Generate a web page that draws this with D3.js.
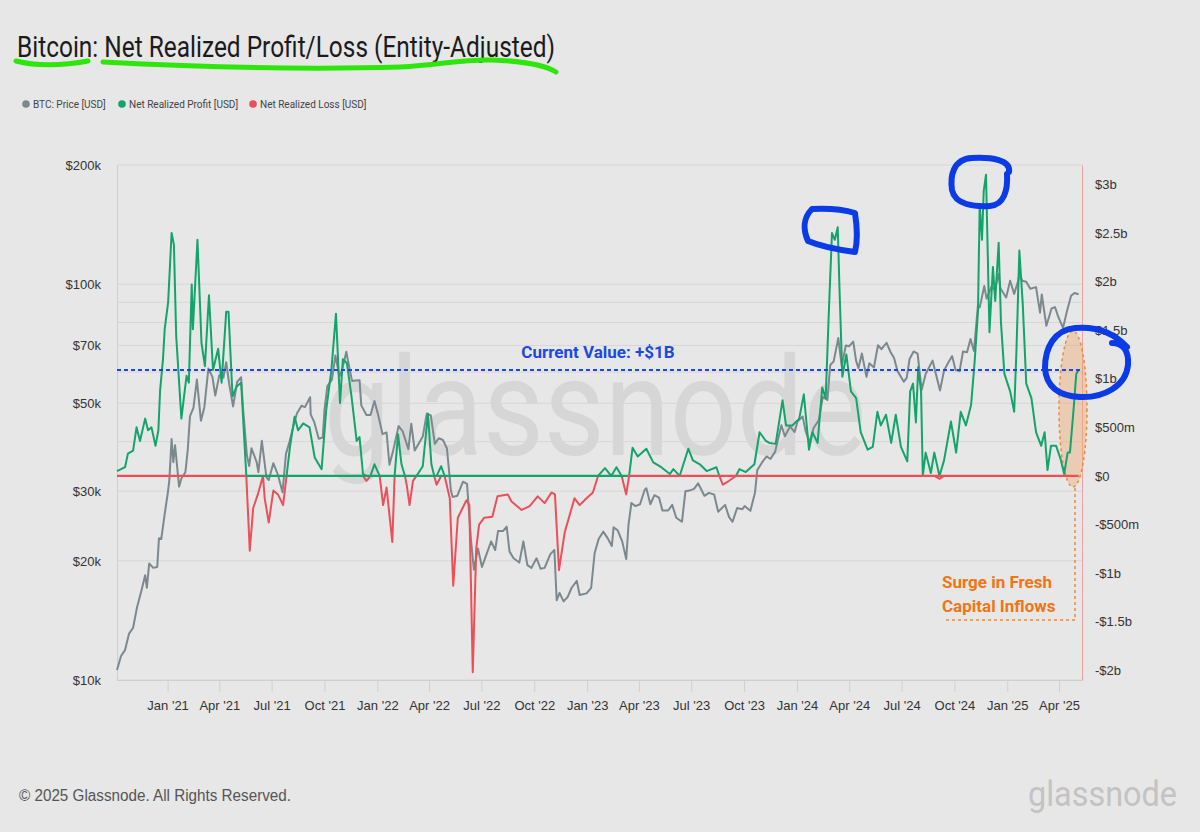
<!DOCTYPE html>
<html>
<head>
<meta charset="utf-8">
<script src="https://cdn.jsdelivr.net/npm/d3@7"></script>
<style>
  body { margin: 0; background: #e7e7e7; }
  svg { display: block; font-family: Roboto, "Liberation Sans", Arial, sans-serif; }
</style>
</head>
<body>
<svg width="1200" height="832"></svg>
<script>
// BTC price, USD
let priceDates = ["2020-10-05","2020-10-12","2020-10-19","2020-10-26","2020-11-02","2020-11-09","2020-11-16","2020-11-23","2020-11-26","2020-11-30","2020-12-07","2020-12-14","2020-12-17","2020-12-21","2020-12-27","2021-01-01","2021-01-04","2021-01-08","2021-01-11","2021-01-14","2021-01-21","2021-01-25","2021-02-01","2021-02-05","2021-02-09","2021-02-15","2021-02-21","2021-02-28","2021-03-06","2021-03-13","2021-03-20","2021-03-25","2021-04-01","2021-04-08","2021-04-13","2021-04-18","2021-04-25","2021-05-02","2021-05-09","2021-05-12","2021-05-19","2021-05-23","2021-05-27","2021-06-05","2021-06-08","2021-06-14","2021-06-22","2021-06-26","2021-07-04","2021-07-12","2021-07-20","2021-07-26","2021-08-01","2021-08-08","2021-08-14","2021-08-22","2021-08-28","2021-09-06","2021-09-07","2021-09-13","2021-09-21","2021-09-28","2021-10-01","2021-10-06","2021-10-14","2021-10-20","2021-10-27","2021-11-01","2021-11-08","2021-11-10","2021-11-18","2021-11-24","2021-12-01","2021-12-04","2021-12-13","2021-12-20","2021-12-27","2022-01-03","2022-01-10","2022-01-17","2022-01-22","2022-01-28","2022-02-07","2022-02-14","2022-02-24","2022-03-01","2022-03-07","2022-03-14","2022-03-21","2022-03-28","2022-04-04","2022-04-11","2022-04-18","2022-04-25","2022-05-02","2022-05-09","2022-05-12","2022-05-20","2022-05-30","2022-06-06","2022-06-13","2022-06-18","2022-06-25","2022-07-02","2022-07-10","2022-07-18","2022-07-25","2022-07-30","2022-08-08","2022-08-14","2022-08-19","2022-08-26","2022-09-05","2022-09-12","2022-09-19","2022-09-26","2022-10-05","2022-10-12","2022-10-19","2022-10-29","2022-11-05","2022-11-09","2022-11-14","2022-11-21","2022-11-28","2022-12-05","2022-12-14","2022-12-19","2022-12-31","2023-01-08","2023-01-14","2023-01-21","2023-01-29","2023-02-05","2023-02-13","2023-02-16","2023-02-23","2023-03-03","2023-03-10","2023-03-14","2023-03-19","2023-03-26","2023-04-03","2023-04-11","2023-04-14","2023-04-21","2023-04-28","2023-05-06","2023-05-12","2023-05-22","2023-05-29","2023-06-05","2023-06-15","2023-06-21","2023-06-28","2023-07-06","2023-07-13","2023-07-24","2023-08-01","2023-08-10","2023-08-17","2023-08-29","2023-09-05","2023-09-11","2023-09-19","2023-09-28","2023-10-02","2023-10-12","2023-10-20","2023-10-24","2023-11-01","2023-11-09","2023-11-16","2023-11-24","2023-12-05","2023-12-11","2023-12-20","2023-12-28","2024-01-02","2024-01-11","2024-01-16","2024-01-23","2024-01-30","2024-02-08","2024-02-15","2024-02-23","2024-02-28","2024-03-05","2024-03-13","2024-03-19","2024-03-26","2024-04-01","2024-04-08","2024-04-13","2024-04-17","2024-04-23","2024-05-01","2024-05-06","2024-05-14","2024-05-21","2024-05-27","2024-06-05","2024-06-12","2024-06-18","2024-06-24","2024-07-05","2024-07-10","2024-07-15","2024-07-22","2024-07-29","2024-08-05","2024-08-12","2024-08-24","2024-08-30","2024-09-06","2024-09-13","2024-09-20","2024-09-27","2024-10-03","2024-10-10","2024-10-16","2024-10-23","2024-10-29","2024-11-04","2024-11-11","2024-11-14","2024-11-22","2024-11-26","2024-12-05","2024-12-10","2024-12-17","2024-12-20","2024-12-30","2025-01-06","2025-01-13","2025-01-20","2025-01-22","2025-01-27","2025-02-03","2025-02-10","2025-02-20","2025-02-27","2025-03-02","2025-03-10","2025-03-19","2025-03-25","2025-03-31","2025-04-08","2025-04-14","2025-04-22","2025-04-28","2025-05-05"];
let priceValues = [10600,11500,11900,13100,13550,15300,16700,18400,17100,19700,19200,19300,22800,22700,26300,29400,31900,40600,35500,39200,30800,32300,33500,38000,46400,48700,57400,45200,48900,61200,58300,52300,58900,58000,63500,56200,49100,56600,58200,49200,37000,34700,38500,35500,33500,40200,32500,32000,35300,33000,29800,37300,39900,43800,47100,49300,48900,51800,46900,44900,40700,41000,48100,55300,57400,66000,58500,61000,67500,65000,56900,57100,57200,49400,46700,46700,50700,46400,41800,42200,35000,37700,43800,42500,38300,44400,38000,39600,41200,47100,46600,39500,40800,40400,38500,30100,29000,29200,31700,31300,22500,19000,21500,19300,20800,22400,21300,23800,23800,24400,21100,20300,19800,22400,19500,19200,20300,19100,19200,20800,21300,15900,16600,15800,16200,17100,17800,16400,16550,17100,20900,22700,23700,22900,21800,24300,23900,22400,20200,24700,28000,27500,27800,30200,30500,27800,29300,28900,26800,26800,27700,25700,25100,30000,30100,30400,31400,29200,29700,29400,26600,27700,25800,25100,27200,27000,27500,26750,29700,33900,35400,36700,36200,37700,44000,41300,43700,42300,45000,46300,42600,39800,43300,45300,51900,51000,62500,63800,73100,62000,70000,69700,71600,64000,61300,66800,58300,63100,61600,70100,68500,71100,67300,65100,60300,56700,58000,64700,67600,66800,54000,59300,64100,59100,53900,60500,63200,65800,60700,60300,67600,67300,72700,67800,88700,87300,98900,91900,98800,96600,106000,97700,92500,102000,94500,102000,106000,102000,101400,97400,98300,84700,94200,78500,86800,87500,82500,77500,84500,93500,95000,94300];

// net realized profit/loss, billions USD (profit = positive part, loss = negative part)
let plDates = ["2020-10-05","2020-10-12","2020-10-19","2020-10-24","2020-11-02","2020-11-08","2020-11-14","2020-11-23","2020-11-28","2020-12-04","2020-12-11","2020-12-16","2020-12-19","2020-12-24","2020-12-27","2021-01-02","2021-01-08","2021-01-12","2021-01-16","2021-01-25","2021-02-03","2021-02-07","2021-02-12","2021-02-14","2021-02-22","2021-03-01","2021-03-07","2021-03-14","2021-03-21","2021-03-30","2021-04-05","2021-04-13","2021-04-17","2021-04-24","2021-05-01","2021-05-09","2021-05-18","2021-05-24","2021-05-30","2021-06-07","2021-06-16","2021-06-19","2021-06-26","2021-07-04","2021-07-12","2021-07-21","2021-07-27","2021-08-02","2021-08-10","2021-08-16","2021-08-25","2021-09-05","2021-09-14","2021-09-26","2021-10-04","2021-10-13","2021-10-21","2021-10-28","2021-11-02","2021-11-09","2021-11-17","2021-11-26","2021-12-01","2021-12-07","2021-12-13","2021-12-20","2021-12-27","2022-01-05","2022-01-11","2022-01-17","2022-01-27","2022-01-31","2022-02-06","2022-02-12","2022-02-18","2022-02-21","2022-02-26","2022-03-04","2022-03-10","2022-03-21","2022-03-30","2022-04-05","2022-04-10","2022-04-14","2022-04-22","2022-04-28","2022-05-07","2022-05-13","2022-05-21","2022-06-05","2022-06-10","2022-06-16","2022-06-22","2022-06-27","2022-07-06","2022-07-20","2022-07-29","2022-08-16","2022-08-22","2022-09-09","2022-09-23","2022-10-07","2022-10-19","2022-10-31","2022-11-06","2022-11-13","2022-11-23","2022-12-10","2022-12-19","2022-12-31","2023-01-11","2023-01-20","2023-02-01","2023-02-12","2023-02-21","2023-03-02","2023-03-10","2023-03-15","2023-03-21","2023-03-30","2023-04-14","2023-04-26","2023-05-10","2023-05-25","2023-05-31","2023-06-11","2023-06-26","2023-07-04","2023-07-16","2023-07-28","2023-08-14","2023-08-19","2023-08-25","2023-09-05","2023-09-17","2023-09-23","2023-10-04","2023-10-19","2023-10-28","2023-11-08","2023-11-14","2023-11-25","2023-12-07","2023-12-13","2023-12-24","2024-01-05","2024-01-13","2024-01-22","2024-01-28","2024-02-06","2024-02-14","2024-02-20","2024-02-26","2024-03-02","2024-03-07","2024-03-12","2024-03-15","2024-03-20","2024-03-27","2024-04-04","2024-04-13","2024-04-21","2024-05-03","2024-05-12","2024-05-20","2024-05-26","2024-06-04","2024-06-13","2024-06-21","2024-06-30","2024-07-11","2024-07-16","2024-07-21","2024-07-26","2024-07-30","2024-08-04","2024-08-07","2024-08-12","2024-08-21","2024-08-27","2024-09-05","2024-09-13","2024-09-25","2024-10-04","2024-10-12","2024-10-21","2024-10-30","2024-11-05","2024-11-11","2024-11-14","2024-11-18","2024-11-21","2024-11-25","2024-11-28","2024-12-01","2024-12-07","2024-12-11","2024-12-17","2024-12-21","2024-12-27","2025-01-06","2025-01-13","2025-01-17","2025-01-22","2025-01-28","2025-02-03","2025-02-12","2025-02-20","2025-03-01","2025-03-07","2025-03-12","2025-03-18","2025-03-27","2025-04-04","2025-04-10","2025-04-16","2025-04-20","2025-04-26","2025-05-01","2025-05-05"];
let plNet = [0.05,0.07,0.09,0.23,0.26,0.50,0.36,0.59,0.47,0.50,0.31,0.47,0.88,1.20,1.51,1.79,2.50,2.38,1.44,0.59,1.03,0.96,1.97,1.51,2.43,1.37,1.13,1.86,1.09,1.31,0.96,1.69,1.69,0.82,0.92,0.96,0,-0.77,-0.33,-0.19,0,-0.23,-0.48,-0.15,-0.19,-0.30,0,0.30,0.61,0.47,0.54,0.50,0.19,0.07,0.68,1.09,1.67,0.75,1.20,1.16,0.82,0.36,0.40,0.02,-0.05,0,0.12,0,-0.30,-0.12,-0.68,0,0.43,0.12,0,-0.09,-0.30,-0.05,0,0.10,0.64,0.12,0,-0.09,0.10,0,-0.23,-1.13,-0.43,-0.25,-0.30,-2.02,-0.75,-0.50,-0.43,-0.42,-0.21,-0.19,-0.26,-0.35,-0.31,-0.21,-0.28,-0.17,-0.19,-0.97,-0.58,-0.23,-0.30,-0.23,-0.17,0,0.08,0,0.09,0,-0.19,0,0.29,0.20,0.28,0.14,0.09,0.02,0.07,0,0.28,0.16,0.12,0.05,0.09,0,-0.09,-0.05,0,0.07,0.04,0.12,0.45,0.36,0.34,0.33,0.78,0.52,0.52,0.59,0.84,0.27,0.45,0.34,0.91,0.80,1.76,2.50,2.43,2.56,1.94,1.02,1.25,0.87,0.80,0.45,0.27,0.30,0.66,0.52,0.63,0.34,0.63,0.30,0.15,0.87,0.95,0.55,1.12,0.87,0,0.24,0.03,0.24,-0.03,0.16,0.56,0.24,0.66,0.52,0.73,1.16,1.69,2.79,2.43,2.93,3.10,2.29,1.48,2.15,1.80,2.40,1.58,1.05,0.87,0.66,1.30,2.32,1.76,0.95,0.80,0.45,0.31,0.45,0.06,0.31,0.31,0.17,0.02,0.24,0.24,0.66,1.05,1.09];

// which series shows on the zero line over time
let zeroDates = ["2020-10-05","2021-05-18","2023-03-12","2025-05-05"];
let zeroSeries = ["loss","profit","loss"];

let leftTicks = [10000, 20000, 30000, 50000, 70000, 100000, 200000];
let leftGrid = [10000, 20000, 30000, 40000, 50000, 60000, 70000, 80000, 90000, 100000, 200000];
let rightTicks = [-2, -1.5, -1, -0.5, 0, 0.5, 1, 1.5, 2, 2.5, 3];
let legendLabels = ["BTC: Price [USD]", "Net Realized Profit [USD]", "Net Realized Loss [USD]"];

let parse = d3.timeParse("%Y-%m-%d");
let gray = "#7b898e", green = "#14a46b", red = "#e9505a";

let price = priceDates.map((d, i) => ({date: parse(d), value: priceValues[i]}));
let pl = plDates.map((d, i) => ({date: parse(d), profit: Math.max(plNet[i], 0), loss: Math.min(plNet[i], 0)}));

let svg = d3.select("svg");
let margin = {top: 165, right: 118, bottom: 152, left: 117};
let width = 1200, height = 832;

let x = d3.scaleTime()
  .domain([parse("2020-10-05"), parse("2025-05-11")])
  .range([margin.left, width - margin.right]);

let yL = d3.scaleLog()
  .domain([10000, 200000])
  .range([height - margin.bottom, margin.top]);

let yR = d3.scaleLinear()
  .domain([-2.1, 3.2])
  .range([height - margin.bottom, margin.top]);

// title + hand-drawn underline
svg.append("text")
  .attr("x", 17).attr("y", 57)
  .attr("font-size", 30).attr("fill", "#1b1b1b")
  .attr("textLength", 538).attr("lengthAdjust", "spacingAndGlyphs")
  .text("Bitcoin: Net Realized Profit/Loss (Entity-Adjusted)");

let marker = svg.append("g").attr("fill", "none").attr("stroke", "#2ee60c")
  .attr("stroke-width", 5).attr("stroke-linecap", "round");
marker.append("path").attr("d", "M16,61 C35,66 62,66 88,61");
marker.append("path").attr("d", "M103,62 C180,66 300,70 400,67 C440,65 462,59 492,60 C520,61 545,65 556,72");

// legend
let legend = svg.append("g").attr("font-size", 10).attr("fill", "#444");
let legendX = [26, 122, 253];
[gray, green, red].forEach((c, i) => {
  legend.append("circle").attr("cx", legendX[i]).attr("cy", 104).attr("r", 3.8).attr("fill", c);
  legend.append("text").attr("x", legendX[i] + 7).attr("y", 107.5).text(legendLabels[i]);
});

// grid
svg.append("g")
  .selectAll("line").data(leftGrid).enter().append("line")
  .attr("x1", margin.left).attr("x2", width - margin.right)
  .attr("y1", d => yL(d)).attr("y2", d => yL(d))
  .attr("stroke", "#d6d6d6").attr("stroke-width", 1);

// watermark
svg.append("text")
  .attr("x", 324).attr("y", 455)
  .attr("font-size", 138).attr("fill", "#d6d6d6")
  .attr("textLength", 542).attr("lengthAdjust", "spacingAndGlyphs")
  .text("glassnode");

// axes
let xAxis = g => g
  .attr("transform", `translate(0,${height - margin.bottom})`)
  .call(d3.axisBottom(x)
    .ticks(d3.timeMonth.every(3))
    .tickFormat(d3.timeFormat("%b '%y"))
    .tickSize(12).tickPadding(9).tickSizeOuter(0))
  .call(g => g.select(".domain").attr("stroke", "#cfcfcf"))
  .call(g => g.selectAll(".tick line").attr("stroke", "#d0d0d0"))
  .call(g => g.selectAll("text").attr("fill", "#333").attr("font-size", 13));

let yAxis = g => g
  .attr("transform", `translate(${margin.left},0)`)
  .call(d3.axisLeft(yL).tickValues(leftTicks)
    .tickFormat(d => "$" + d / 1000 + "k").tickSize(0).tickPadding(16))
  .call(g => g.select(".domain").attr("stroke", "#cfcfcf"))
  .call(g => g.selectAll("text").attr("fill", "#333").attr("font-size", 13));

let fmtR = v => (v < 0 ? "-" : "") + "$" + (v === 0 ? "0" : Math.abs(v) < 1 ? Math.abs(v) * 1000 + "m" : Math.abs(v) + "b");
let yAxisR = g => g
  .attr("transform", `translate(${width - margin.right},0)`)
  .call(d3.axisRight(yR).tickValues(rightTicks).tickFormat(fmtR).tickSize(0).tickPadding(13))
  .call(g => g.select(".domain").attr("stroke", "#f0a3a3"))
  .call(g => g.selectAll("text").attr("fill", "#333").attr("font-size", 13));

svg.append("g").call(xAxis);
svg.append("g").call(yAxis);
svg.append("g").call(yAxisR);

// orange highlight behind the lines
svg.append("ellipse")
  .attr("cx", 1073).attr("cy", 409).attr("rx", 14).attr("ry", 78)
  .attr("fill", "rgba(240,160,100,0.38)")
  .attr("stroke", "#f08a30").attr("stroke-width", 1.5).attr("stroke-dasharray", "3,3");

// series
let priceLine = d3.line().x(d => x(d.date)).y(d => yL(d.value));
let profitLine = d3.line().x(d => x(d.date)).y(d => yR(d.profit));
let lossLine = d3.line().x(d => x(d.date)).y(d => yR(d.loss));

svg.append("path").datum(price)
  .attr("fill", "none").attr("stroke", gray).attr("stroke-width", 2).attr("stroke-linejoin", "round")
  .attr("d", priceLine);

svg.append("path").datum(pl)
  .attr("fill", "none").attr("stroke", green).attr("stroke-width", 2).attr("stroke-linejoin", "round")
  .attr("d", profitLine);

svg.append("path").datum(pl)
  .attr("fill", "none").attr("stroke", red).attr("stroke-width", 2).attr("stroke-linejoin", "round")
  .attr("d", lossLine);

// zero line, coloured by the series resting on it
svg.append("g")
  .selectAll("line").data(zeroSeries).enter().append("line")
  .attr("x1", (d, i) => x(parse(zeroDates[i])))
  .attr("x2", (d, i) => x(parse(zeroDates[i + 1])))
  .attr("y1", yR(0)).attr("y2", yR(0))
  .attr("stroke", d => d === "loss" ? red : green).attr("stroke-width", 2.2);

// current value
let last = plNet[plNet.length - 1];
svg.append("line")
  .attr("x1", margin.left).attr("x2", width - margin.right)
  .attr("y1", yR(last)).attr("y2", yR(last))
  .attr("stroke", "#1747e6").attr("stroke-width", 2).attr("stroke-dasharray", "4,3");

svg.append("text")
  .attr("x", 598).attr("y", 358).attr("text-anchor", "middle")
  .attr("font-size", 17).attr("font-weight", "bold").attr("fill", "#1a4ae0")
  .text("Current Value: +$" + Math.round(last) + "B");

// orange note
svg.append("path")
  .attr("d", "M1075,488 L1075,620 L945,620")
  .attr("fill", "none").attr("stroke", "#f08a30").attr("stroke-width", 1.5).attr("stroke-dasharray", "3,3");

let note = svg.append("g").attr("font-size", 17).attr("font-weight", "bold").attr("fill", "#f07614");
note.append("text").attr("x", 942).attr("y", 588).text("Surge in Fresh");
note.append("text").attr("x", 942).attr("y", 612).text("Capital Inflows");

// blue hand-drawn circles
let pen = svg.append("g").attr("fill", "none").attr("stroke", "#0a3be6")
  .attr("stroke-width", 6).attr("stroke-linecap", "round").attr("stroke-linejoin", "round");
pen.append("path").attr("d", "M812,209 C830,208 845,210 855,213 C857,226 858,240 855,252 C840,250 820,246 808,241 C803,230 803,218 812,209 Z");
pen.append("path").attr("d", "M1009,172 C1011,160 992,157 972,158 C953,159 950,176 952,190 C955,205 975,207 990,206 C1004,205 1008,190 1007,174");
pen.append("path").attr("d", "M1112,343 C1124,343 1129,352 1128,365 C1126,386 1104,398 1080,397 C1058,396 1046,386 1045,368 C1045,348 1054,330 1075,328 C1098,326 1115,334 1127,347");

// footer
svg.append("text")
  .attr("x", 19).attr("y", 801)
  .attr("font-size", 16).attr("fill", "#555")
  .attr("font-family", "'Liberation Sans', Arial, sans-serif")
  .attr("textLength", 272).attr("lengthAdjust", "spacingAndGlyphs")
  .text("© 2025 Glassnode. All Rights Reserved.");

svg.append("text")
  .attr("x", 1028).attr("y", 806)
  .attr("font-size", 35).attr("fill", "#c3c3c3")
  .attr("textLength", 149).attr("lengthAdjust", "spacingAndGlyphs")
  .text("glassnode");
</script>
</body>
</html>
